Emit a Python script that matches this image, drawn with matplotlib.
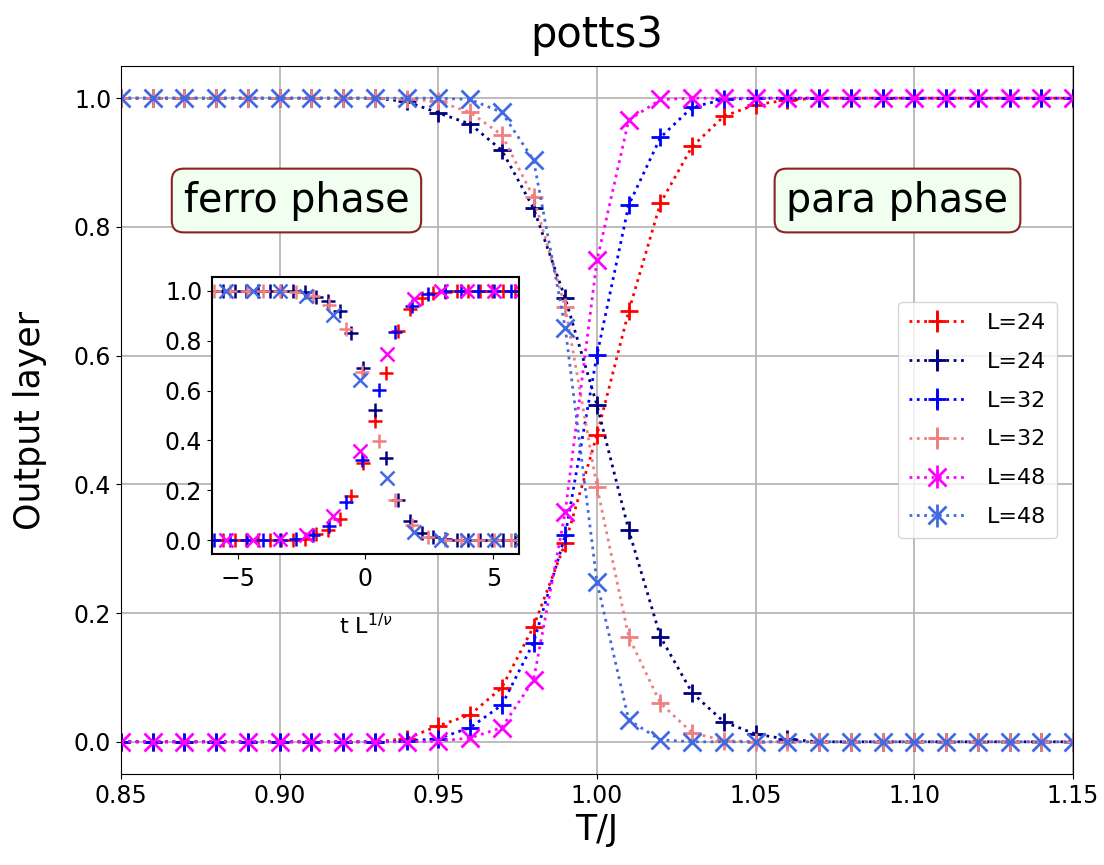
import numpy as np
import matplotlib
matplotlib.use('Agg')
import matplotlib.pyplot as plt

plt.rcParams['font.family'] = ['DejaVu Sans']

# temperatures T/J
T = np.round(np.arange(0.85, 1.1501, 0.01), 2)

# output neuron values
para24 = [0, 0, 0, 0, 0, 0, 0, 0, 0, 0.005, 0.025, 0.042, 0.084, 0.179, 0.309, 0.477,
          0.669, 0.837, 0.925, 0.972, 0.990, 0.997, 1, 1, 1, 1, 1, 1, 1, 1, 1]
ferro24 = [1, 1, 1, 1, 1, 1, 1, 1, 1, 0.995, 0.977, 0.960, 0.919, 0.829, 0.689, 0.523,
           0.329, 0.163, 0.076, 0.031, 0.012, 0.004, 0, 0, 0, 0, 0, 0, 0, 0, 0]
para32 = [0, 0, 0, 0, 0, 0, 0, 0, 0, 0.001, 0.005, 0.022, 0.057, 0.154, 0.321, 0.601,
          0.834, 0.939, 0.986, 0.998, 1, 1, 1, 1, 1, 1, 1, 1, 1, 1, 1]
ferro32 = [1, 1, 1, 1, 1, 1, 1, 1, 1, 0.999, 0.995, 0.978, 0.943, 0.846, 0.675, 0.396,
           0.163, 0.060, 0.014, 0.002, 0, 0, 0, 0, 0, 0, 0, 0, 0, 0, 0]
para48 = [0, 0, 0, 0, 0, 0, 0, 0, 0, 0, 0.001, 0.006, 0.022, 0.096, 0.357, 0.748,
          0.966, 0.998, 1, 1, 1, 1, 1, 1, 1, 1, 1, 1, 1, 1, 1]
ferro48 = [1, 1, 1, 1, 1, 1, 1, 1, 1, 1, 1.0, 0.998, 0.978, 0.904, 0.643, 0.248,
           0.034, 0.003, 0, 0, 0, 0, 0, 0, 0, 0, 0, 0, 0, 0, 0]

sizes = [24, 24, 32, 32, 48, 48]
series = [para24, ferro24, para32, ferro32, para48, ferro48]
colors = ['red', 'navy', 'blue', 'lightcoral', 'magenta', 'royalblue']
markers = ['+', '+', '+', '+', 'x', 'x']

# finite size scaling
Tc = 0.992
nu = 5 / 6

fig = plt.figure(figsize=(11.04, 8.65), dpi=100)
ax = fig.add_axes([0.1096, 0.1052, 0.8623, 0.8185])

for L, y, c, m in zip(sizes, series, colors, markers):
    ax.errorbar(T, y, yerr=np.zeros(len(T)), color=c, marker=m, ls=':', lw=2,
                markersize=13, mew=2, elinewidth=2, label=f'L={L}')

ax.set_xlim(0.85, 1.15)
ax.set_ylim(-0.05, 1.05)
ax.set_xticks([0.85, 0.90, 0.95, 1.00, 1.05, 1.10, 1.15])
ax.set_yticks([0.0, 0.2, 0.4, 0.6, 0.8, 1.0])
ax.tick_params(labelsize=17)
ax.grid(True, color='#b0b0b0', lw=1.2)
ax.set_title('potts3', fontsize=30, pad=14)
ax.set_xlabel('T/J', fontsize=25, labelpad=4)
ax.set_ylabel('Output layer', fontsize=25, labelpad=19)

box = dict(boxstyle='round,pad=0.3', facecolor='#f0fff0', edgecolor='#8b2323', lw=1.5)
ax.text(0.9053, 0.841, 'ferro phase', fontsize=28.5, ha='center', va='center', bbox=box)
ax.text(1.0947, 0.841, 'para phase', fontsize=28.5, ha='center', va='center', bbox=box)

ax.legend(loc='center right', fontsize=16, handlelength=2.5, handletextpad=1.0,
          borderpad=0.5, labelspacing=0.85, borderaxespad=0.7)

# inset: scaled variable
axin = fig.add_axes([0.192, 0.3595, 0.278, 0.3202])
for L, y, c, m in zip(sizes, series, colors, markers):
    x = (T - Tc) / Tc * L ** (1 / nu)
    axin.plot(x, y, color=c, marker=m, ls='none', markersize=10, mew=1.8)
axin.set_xlim(-6, 6)
axin.set_ylim(-0.055, 1.055)
axin.set_xticks([-5, 0, 5])
axin.set_yticks([0.0, 0.2, 0.4, 0.6, 0.8, 1.0])
axin.tick_params(labelsize=17)
axin.tick_params(axis='x', pad=6)
axin.set_xlabel(r't L$^{1/\nu}$', fontsize=16, labelpad=16)
for s in axin.spines.values():
    s.set_linewidth(1.5)

fig.savefig('out.png', dpi=100)
